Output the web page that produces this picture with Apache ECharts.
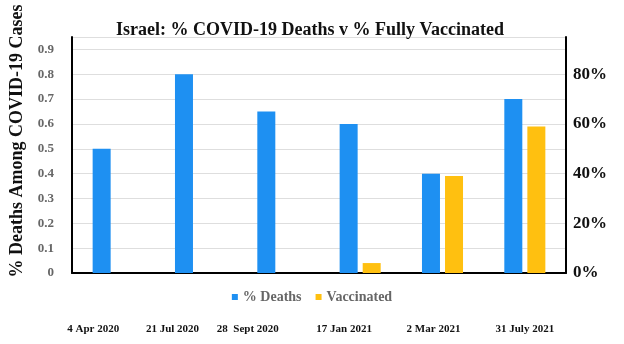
<!DOCTYPE html>
<html><head><meta charset="utf-8">
<script src="https://cdn.jsdelivr.net/npm/echarts@6/dist/echarts.min.js"></script>
<style>html,body{margin:0;padding:0;background:#fff}#c{width:624px;height:344px}</style>
</head><body><div id="c"></div>
<script>
const categories = ['4 Apr 2020','21 Jul 2020','28  Sept 2020','17 Jan 2021','2 Mar 2021','31 July 2021'];
const deaths = [0.5, 0.8, 0.65, 0.6, 0.4, 0.7];
const vaccinated = [null, null, null, 4, 39, 59];
const labelShift = [20, 23, 30, 16, 9, 0];
const serif = '"Liberation Serif", "DejaVu Serif", serif';
const chart = echarts.init(document.getElementById('c'));
const rich = {};
labelShift.forEach((s, i) => { rich['s' + i] = {padding: [0, 2 * s, 0, 0], fontFamily: serif, fontWeight: 'bold', fontSize: 11, color: '#111'}; });
chart.setOption({
  animation: false,
  title: {text: 'Israel: % COVID-19 Deaths v % Fully Vaccinated', left: 305, top: 16, textAlign: 'center',
    textStyle: {fontFamily: serif, fontWeight: 'bold', fontSize: 18, color: '#111'}},
  legend: {data: ['% Deaths', 'Vaccinated'], left: 'center', top: 285, itemWidth: 6, itemHeight: 6, itemGap: 14, icon: 'rect',
    textStyle: {fontFamily: serif, fontWeight: 'bold', fontSize: 14, color: '#666'}},
  grid: {left: 66, right: 58, top: 37, bottom: 71},
  xAxis: {type: 'category', data: categories,
    axisLine: {lineStyle: {color: '#000', width: 2}}, axisTick: {show: false},
    axisLabel: {interval: 0, hideOverlap: false, margin: 51, formatter: (v, i) => '{s' + i + '|' + v + '}', rich: rich}},
  yAxis: [
    {type: 'value', min: 0, max: 0.95, interval: 0.1,
     name: '% Deaths Among COVID-19 Cases', nameLocation: 'middle', nameGap: 46, nameRotate: 90,
     nameTextStyle: {fontFamily: serif, fontWeight: 'bold', fontSize: 18, color: '#111', padding: [0, 0, 0, 28]},
     axisLine: {show: true, lineStyle: {color: '#000', width: 2}}, axisTick: {show: false},
     axisLabel: {showMaxLabel: false, margin: 18, fontFamily: serif, fontWeight: 'bold', fontSize: 13, color: '#666',
       formatter: v => v === 0 ? '0' : v.toFixed(1)},
     splitLine: {lineStyle: {color: '#dedede', width: 1}}},
    {type: 'value', min: 0, max: 95, interval: 20, position: 'right',
     axisLine: {show: true, lineStyle: {color: '#000', width: 2}}, axisTick: {show: false},
     axisLabel: {showMaxLabel: false, margin: 7, fontFamily: serif, fontWeight: 'bold', fontSize: 17, color: '#111',
       formatter: v => v + '%'},
     splitLine: {show: false}}
  ],
  series: [
    {name: '% Deaths', type: 'bar', data: deaths, yAxisIndex: 0, barWidth: 18, barGap: '28%', itemStyle: {color: '#1E90F2'}},
    {name: 'Vaccinated', type: 'bar', data: vaccinated, yAxisIndex: 1, barWidth: 18, itemStyle: {color: '#FFC010'}}
  ]
});
</script></body></html>
